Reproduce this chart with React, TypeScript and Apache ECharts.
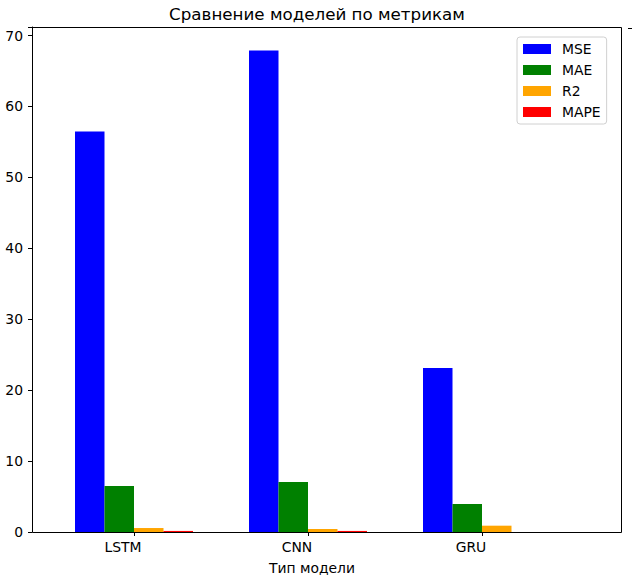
import React, { useEffect, useRef } from "react";
import * as echarts from "echarts";

const categories = ["LSTM", "CNN", "GRU"];
const metricNames = ["MSE", "MAE", "R2", "MAPE"];
const mseValues = [56.45, 67.88, 23.14];
const maeValues = [6.49, 7.06, 3.95];
const r2Values = [0.56, 0.42, 0.89];
const mapeValues = [0.15, 0.15, 0.0];
const yTicks = [0, 10, 20, 30, 40, 50, 60, 70];
const colors = ["#0000ff", "#008000", "#ffa500", "#ff0000"];

const FONT = "DejaVu Sans";

export default function App() {
  const ref = useRef<HTMLDivElement>(null);
  useEffect(() => {
    document.body.style.margin = "0";
    if (!ref.current) return;
    const chart = echarts.init(ref.current, null, { renderer: "svg" });
    const seriesData = [mseValues, maeValues, r2Values, mapeValues];
    chart.setOption({
      animation: false,
      backgroundColor: "#ffffff",
      title: {
        text: "Сравнение моделей по метрикам",
        left: 312,
        top: 0,
        textAlign: "center",
        textStyle: { fontFamily: FONT, fontSize: 16.7, fontWeight: "normal", color: "#000" },
      },
      grid: { left: 47, right: 63, top: 27, bottom: 49 },
      legend: {
        data: metricNames,
        orient: "vertical",
        left: 517,
        top: 37,
        padding: [5, 6, 5, 6],
        itemWidth: 28,
        itemHeight: 10,
        itemGap: 7,
        icon: "rect",
        borderColor: "#d0d0d0",
        borderWidth: 1,
        borderRadius: 3,
        backgroundColor: "rgba(255,255,255,0.8)",
        textStyle: { fontFamily: FONT, fontSize: 13.9, color: "#000", padding: [0, 0, 0, 6] },
      },
      xAxis: {
        type: "category",
        data: categories,
        name: "Тип модели",
        nameLocation: "middle",
        nameGap: 29,
        nameTextStyle: { fontFamily: FONT, fontSize: 13.9, color: "#000", padding: [0, 0, 0, 8] },
        axisLine: { show: false },
        axisTick: { show: true, alignWithLabel: true, length: 4, lineStyle: { color: "#000" } },
        axisLabel: { fontFamily: FONT, fontSize: 13.9, color: "#000", margin: 8, padding: [0, 22, 0, 0] },
        splitLine: { show: false },
      },
      yAxis: {
        type: "value",
        min: 0,
        max: 71.2,
        interval: 10,
        offset: 15,
        axisLine: { show: true, lineStyle: { color: "#000" } },
        axisTick: { show: true, length: 4, lineStyle: { color: "#000" } },
        axisLabel: {
          fontFamily: FONT,
          fontSize: 13.9,
          color: "#000",
          margin: 9,
          formatter: (v: number) => (yTicks.includes(v) ? String(v) : ""),
        },
        splitLine: { show: false },
      },
      graphic: [
        {
          type: "rect",
          z: 100,
          silent: true,
          shape: { x: 32.5, y: 27.5, width: 589, height: 505 },
          style: { fill: "none", stroke: "#000", lineWidth: 1 },
        },
        {
          type: "line",
          shape: { x1: 628, y1: 28.5, x2: 632, y2: 28.5 },
          style: { stroke: "#000", lineWidth: 1 },
        },
      ],
      series: metricNames.map((name, i) => ({
        name,
        type: "bar",
        data: seriesData[i],
        barWidth: 29.5,
        barGap: "0%",
        itemStyle: { color: colors[i] },
      })),
    });
    return () => chart.dispose();
  }, []);
  return <div ref={ref} style={{ width: 632, height: 581 }} />;
}
